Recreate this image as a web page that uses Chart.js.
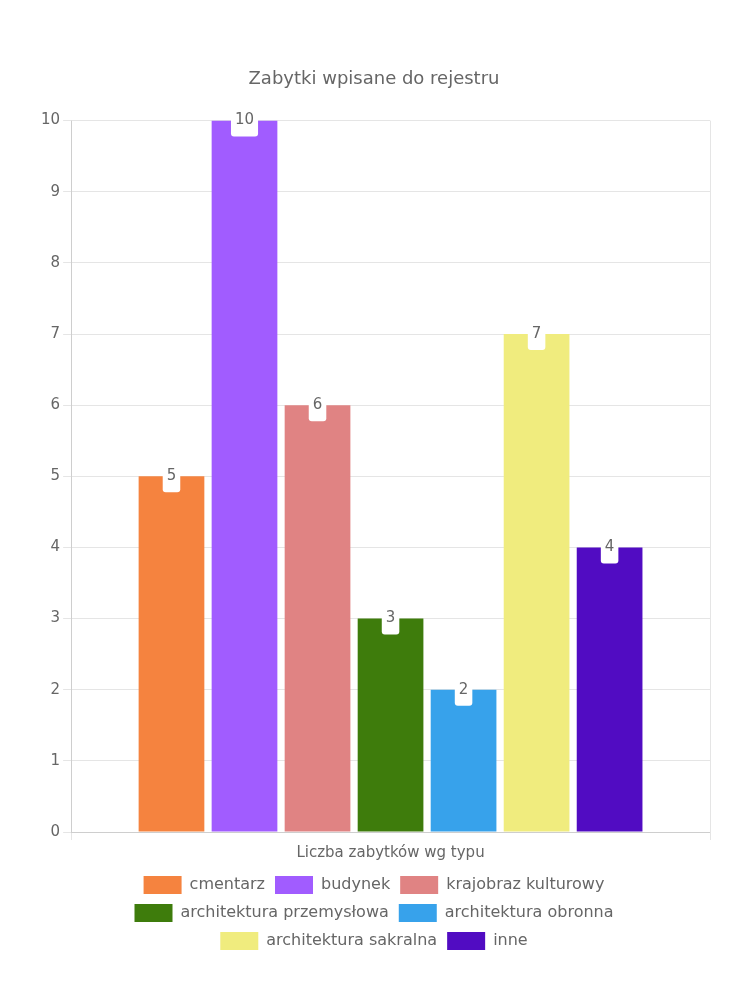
<!DOCTYPE html>
<html>
<head>
<meta charset="utf-8">
<script src="https://cdn.jsdelivr.net/npm/chart.js@4"></script>
<style>
  body { margin: 0; background: #fff; }
  #box { width: 750px; height: 1000px; position: relative; }
</style>
</head>
<body>
<div id="box"><canvas id="grafico"></canvas></div>
<script>
// dati
const kategorie = ['Liczba zabytków wg typu'];
const typy = ['cmentarz', 'budynek', 'krajobraz kulturowy', 'architektura przemysłowa', 'architektura obronna', 'architektura sakralna', 'inne'];
const wartosci = [5, 10, 6, 3, 2, 7, 4];
const kolory = ['#F5833F', '#A15CFF', '#E08383', '#3E7C0C', '#37A2EB', '#F0EC7E', '#510CC2'];
const tytul = 'Zabytki wpisane do rejestru';

const FONT = '"DejaVu Sans", sans-serif';
const GRIGIO = '#666';

// etichette bianche sopra le barre
const pluginEtichette = {
    id: 'etichetteBarre',
    afterDatasetsDraw: (chart) => {
        const ctx = chart.ctx;
        ctx.save();
        ctx.font = '15px ' + FONT;
        ctx.textAlign = 'center';
        ctx.textBaseline = 'middle';
        chart.data.datasets.forEach((ds, i) => {
            const meta = chart.getDatasetMeta(i);
            meta.data.forEach((bar, j) => {
                const testo = String(ds.data[j]);
                const w = ctx.measureText(testo).width + 8;
                ctx.fillStyle = '#fff';
                ctx.beginPath();
                ctx.roundRect(bar.x - w / 2, bar.y - 16, w, 32, 3);
                ctx.fill();
                ctx.fillStyle = GRIGIO;
                ctx.fillText(testo, bar.x, bar.y);
            });
        });
        ctx.restore();
    }
};

new Chart(document.getElementById('grafico'), {
    type: 'bar',
    data: {
        labels: kategorie,
        datasets: typy.map((t, i) => ({
            label: t,
            data: [wartosci[i]],
            backgroundColor: kolory[i],
            borderColor: kolory[i],
            borderWidth: 0
        }))
    },
    options: {
        responsive: true,
        maintainAspectRatio: false,
        animation: false,
        layout: { padding: { top: 60, bottom: 40, left: 38, right: 40 } },
        plugins: {
            title: {
                display: true, text: tytul, color: GRIGIO,
                padding: { top: 9, bottom: 30 },
                font: { family: FONT, size: 18, weight: 'normal' }
            },
            legend: {
                position: 'bottom',
                labels: { boxWidth: 38, boxHeight: 18, color: GRIGIO, font: { family: FONT, size: 16 } }
            },
            tooltip: { enabled: false }
        },
        scales: {
            x: {
                ticks: { padding: 4, color: GRIGIO, font: { family: FONT, size: 15 } }
            },
            y: {
                min: 0,
                max: 10,
                ticks: { stepSize: 1, color: GRIGIO, font: { family: FONT, size: 15 } }
            }
        }
    },
    plugins: [pluginEtichette]
});
</script>
</body>
</html>
